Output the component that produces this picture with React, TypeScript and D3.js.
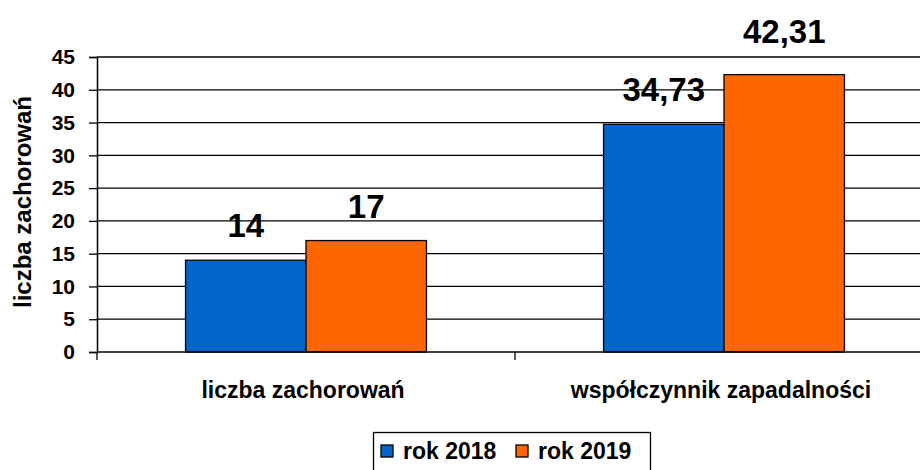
import React, { useEffect, useRef } from 'react';
import * as d3 from 'd3';

const categories = ['liczba zachorowań', 'współczynnik zapadalności'];
const seriesNames = ['rok 2018', 'rok 2019'];
const values2018 = [14, 34.73];
const values2019 = [17, 42.31];
const labels2018 = ['14', '34,73'];
const labels2019 = ['17', '42,31'];
const yTicks = [0, 5, 10, 15, 20, 25, 30, 35, 40, 45];
const colors = ['#0066CC', '#FF6600'];

const W = 920;
const H = 470;
const FONT = 'Arial, "Liberation Sans", sans-serif';

const App = () => {
  const ref = useRef<SVGSVGElement>(null);

  useEffect(() => {
    const svg = d3.select(ref.current);
    svg.selectAll('*').remove();

    const left = 97;
    const top = 57;
    const bottom = 352;
    const right = 933;

    const x0 = d3.scaleBand().domain(categories).range([left, right]);
    const x1 = d3
      .scaleBand()
      .domain(seriesNames)
      .range([0, x0.bandwidth()])
      .paddingOuter(0.735)
      .paddingInner(0);
    const y = d3.scaleLinear().domain([0, 45]).range([bottom, top]);

    // grid lines
    svg
      .append('g')
      .selectAll('line')
      .data(yTicks.filter(t => t > 0))
      .join('line')
      .attr('x1', left)
      .attr('x2', W)
      .attr('y1', d => y(d))
      .attr('y2', d => y(d))
      .attr('stroke', '#000')
      .attr('stroke-width', 1.3);

    // y axis
    const yAxis = d3
      .axisLeft(y)
      .tickValues(yTicks)
      .tickSize(8)
      .tickPadding(14)
      .tickFormat(d => String(d));
    const gy = svg.append('g').attr('transform', `translate(${left},0)`).call(yAxis);
    gy.select('.domain').attr('stroke', '#000').attr('stroke-width', 1.5);
    gy.selectAll('.tick line').attr('stroke', '#000').attr('stroke-width', 1.3);
    gy.selectAll('.tick text')
      .attr('font-family', FONT)
      .attr('font-size', 21)
      .attr('font-weight', 'bold')
      .attr('fill', '#000');

    // bars + value labels
    const series = [values2018, values2019];
    const labels = [labels2018, labels2019];
    series.forEach((vals, si) => {
      svg
        .append('g')
        .selectAll('rect')
        .data(vals)
        .join('rect')
        .attr('x', (d, i) => (x0(categories[i]) ?? 0) + (x1(seriesNames[si]) ?? 0))
        .attr('y', d => y(d))
        .attr('width', x1.bandwidth())
        .attr('height', d => y(0) - y(d))
        .attr('fill', colors[si])
        .attr('stroke', '#000')
        .attr('stroke-width', 1.3);

      svg
        .append('g')
        .selectAll('text')
        .data(vals)
        .join('text')
        .attr('x', (d, i) => (x0(categories[i]) ?? 0) + (x1(seriesNames[si]) ?? 0) + x1.bandwidth() / 2)
        .attr('y', d => {
          const ly = y(d) - 23;
          // labels that would sit on the top gridline go above it
          return ly < top + 5 ? top - 14 : ly;
        })
        .attr('text-anchor', 'middle')
        .attr('font-family', FONT)
        .attr('font-size', 33)
        .attr('font-weight', 'bold')
        .attr('fill', '#000')
        .text((d, i) => labels[si][i]);
    });

    // x axis line
    svg
      .append('line')
      .attr('x1', left)
      .attr('x2', W)
      .attr('y1', y(0))
      .attr('y2', y(0))
      .attr('stroke', '#000')
      .attr('stroke-width', 1.5);

    // category separators
    svg
      .append('g')
      .selectAll('line')
      .data(categories)
      .join('line')
      .attr('x1', d => x0(d) ?? 0)
      .attr('x2', d => x0(d) ?? 0)
      .attr('y1', y(0))
      .attr('y2', y(0) + 8)
      .attr('stroke', '#000')
      .attr('stroke-width', 1.3);

    // category labels
    svg
      .append('g')
      .selectAll('text')
      .data(categories)
      .join('text')
      .attr('x', d => (x0(d) ?? 0) + x0.bandwidth() / 2 - 3)
      .attr('y', 398)
      .attr('text-anchor', 'middle')
      .attr('font-family', FONT)
      .attr('font-size', 23)
      .attr('font-weight', 'bold')
      .attr('fill', '#000')
      .text(d => d);

    // y title
    svg
      .append('text')
      .attr('transform', `translate(31,202) rotate(-90)`)
      .attr('text-anchor', 'middle')
      .attr('font-family', FONT)
      .attr('font-size', 24)
      .attr('font-weight', 'bold')
      .attr('fill', '#000')
      .text('liczba zachorowań');

    // legend
    const lg = svg.append('g');
    lg.append('rect')
      .attr('x', 373.5)
      .attr('y', 432.5)
      .attr('width', 277)
      .attr('height', 45)
      .attr('fill', '#fff')
      .attr('stroke', '#000')
      .attr('stroke-width', 1.3);
    const legendX = [381, 516];
    seriesNames.forEach((name, i) => {
      lg.append('rect')
        .attr('x', legendX[i])
        .attr('y', 445)
        .attr('width', 12)
        .attr('height', 12)
        .attr('fill', colors[i])
        .attr('stroke', '#000')
        .attr('stroke-width', 1.3);
      lg.append('text')
        .attr('x', legendX[i] + 22)
        .attr('y', 459)
        .attr('font-family', FONT)
        .attr('font-size', 23)
        .attr('font-weight', 'bold')
        .attr('fill', '#000')
        .text(name);
    });
  }, []);

  return (
    <svg
      ref={ref}
      width={W}
      height={H}
      style={{ position: 'absolute', left: 0, top: 0, background: '#fff' }}
    />
  );
};

export default App;
